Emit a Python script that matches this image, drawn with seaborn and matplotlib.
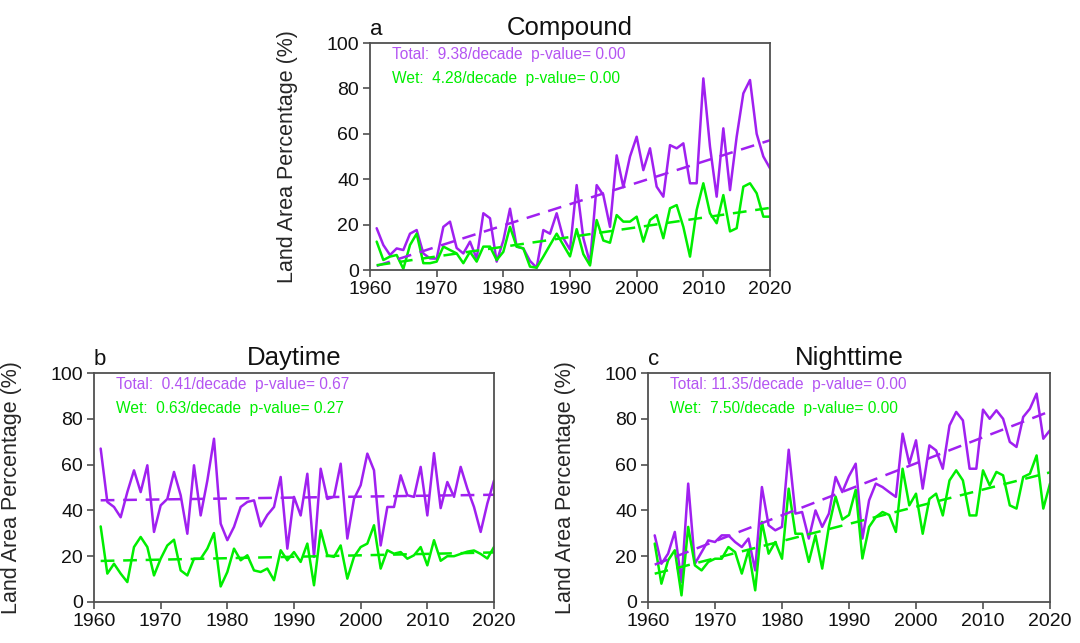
import numpy as np
import pandas as pd
import matplotlib
matplotlib.use("Agg")
import matplotlib.pyplot as plt
import seaborn as sns

years = list(range(1961, 2021))

compound_total = [18.4, 11, 6.6, 9.5, 8.8, 16, 17.6, 7.3, 5.1, 5,
                  19, 21.3, 9.7, 7.3, 12.5, 5, 25, 22.8, 3.7, 13,
                  27, 10.3, 9.5, 4, 1, 17.6, 16, 25, 14, 9,
                  37.4, 14, 3, 37.4, 33, 19, 50.5, 36.5, 50, 58.7,
                  44, 53.6, 36.7, 32.3, 55, 53.6, 55.8, 38.2, 38.2, 84.4,
                  54.3, 32.3, 62.4, 35.2, 58.7, 77.8, 83.7, 60, 50, 44.8]
compound_wet = [12.5, 4.4, 5.9, 6.6, 0.5, 11, 16, 3, 3, 3.7,
                10.3, 8.8, 7.3, 3, 8, 3.7, 10.3, 10.3, 4.4, 8,
                19, 10.3, 9.5, 1.5, 1, 5.9, 11, 16, 11, 6,
                18, 7, 2, 22, 13, 12, 24.2, 21.3, 21.3, 23.5,
                12.5, 22, 24.2, 14, 27.2, 28.6, 19, 5.9, 26.4, 38.2,
                25, 20.6, 33, 17, 18.4, 36.7, 38.2, 33.8, 23.5, 23.5]

daytime_total = [67, 43.7, 41.5, 37, 48, 57.5, 48, 59.7, 30.6, 42.2,
                 45, 56.8, 46.6, 29.8, 59.7, 37.8, 53, 71.3, 34.2, 27,
                 32.8, 41.5, 43.7, 44.4, 33, 38, 41.5, 54.6, 23.3, 45.9,
                 37.8, 56, 19.7, 58.2, 45, 46, 60.4, 27.7, 45, 51,
                 64.8, 57.5, 24.7, 41.5, 41.5, 55.3, 46.6, 45.9, 59, 37.8,
                 65, 41, 52.4, 45.9, 59, 49.5, 41.5, 30.6, 43, 53]
daytime_wet = [33, 12.4, 16.7, 12.4, 8.7, 24, 28.4, 24, 11.6, 18.9,
               24.7, 27.2, 13.8, 11.6, 18.9, 18.9, 23.3, 30.1, 6.8, 13.1,
               23.3, 18.2, 20.4, 13.8, 13.1, 14.6, 9.5, 22.6, 18.2, 21.8,
               17.5, 25.5, 7.3, 31.3, 20.4, 19.7, 24.7, 10.2, 19.7, 24,
               25.5, 33.5, 14.6, 22.6, 21.1, 21.8, 18.9, 20.4, 24, 16,
               27, 18, 20, 20, 21, 22, 22.5, 21, 19, 24]

night_total = [29.1, 16.7, 21.1, 30.6, 8.7, 51.7, 16.7, 21.8, 26.9, 26.2,
               29.1, 29.1, 26.2, 24, 27.7, 13.8, 50.2, 33.5, 31.3, 32.8,
               66.5, 38.6, 39.3, 27.7, 40, 32.8, 38.6, 54.6, 48, 55,
               60.4, 27.7, 44.4, 51.7, 50.2, 48, 45.9, 73.5, 60.4, 70.6,
               49.5, 68.4, 66.2, 58.2, 77.1, 83, 79.3, 58.2, 58.2, 84,
               80, 83.7, 80, 69.9, 67.7, 80.8, 84.4, 91, 71.3, 75]
night_wet = [25.5, 8, 18.2, 22.6, 2.9, 32.8, 16, 13.8, 17.5, 18.9,
             18.9, 24, 21.8, 12.4, 22.6, 5.1, 35, 21.1, 26.2, 18.9,
             49.5, 29.8, 29.8, 17.5, 29.1, 14.6, 33, 46, 36, 38,
             49, 19, 32.8, 37.1, 39.3, 38, 30.6, 58.2, 42.2, 47.3,
             29.8, 45, 47.3, 37.8, 53.1, 57.5, 53.1, 37.8, 37.8, 57.5,
             50.9, 56.8, 55.3, 42.2, 40.8, 54.6, 56, 64, 40.8, 51.7]

# stated trends (% per decade)
total_slopes = [9.38, 0.41, 11.35]
wet_slopes = [4.28, 0.63, 7.50]

panel_letters = ["a", "b", "c"]
panel_titles = ["Compound", "Daytime", "Nighttime"]
total_texts = ["Total:  9.38/decade  p-value= 0.00",
               "Total:  0.41/decade  p-value= 0.67",
               "Total: 11.35/decade  p-value= 0.00"]
wet_texts = ["Wet:  4.28/decade  p-value= 0.00",
             "Wet:  0.63/decade  p-value= 0.27",
             "Wet:  7.50/decade  p-value= 0.00"]
x_ticks = [1960, 1970, 1980, 1990, 2000, 2010, 2020]
y_ticks = [0, 20, 40, 60, 80, 100]
ylabel = "Land Area Percentage (%)"

PURPLE = "#A020F0"
PURPLE_TXT = "#B455F2"
GREEN = "#00EE00"
FRAME = "#505050"

sns.set_style("ticks")
plt.rcParams["font.family"] = ["Liberation Sans", "DejaVu Sans"]
plt.rcParams["text.color"] = "#111111"
plt.rcParams["xtick.labelcolor"] = "#111111"
plt.rcParams["ytick.labelcolor"] = "#111111"

fig = plt.figure(figsize=(10.8, 6.43), dpi=100)
positions = [
    [370 / 1080, 1 - 270 / 643, 400 / 1080, 227 / 643],
    [94 / 1080, 1 - 602 / 643, 400 / 1080, 229 / 643],
    [648 / 1080, 1 - 602 / 643, 402 / 1080, 229 / 643],
]
series = [(compound_total, compound_wet), (daytime_total, daytime_wet),
          (night_total, night_wet)]

for i, pos in enumerate(positions):
    ax = fig.add_axes(pos)
    tot, wet = series[i]
    df = pd.DataFrame({
        "year": years * 2,
        "value": list(tot) + list(wet),
        "kind": ["Total"] * len(years) + ["Wet"] * len(years),
    })
    sns.lineplot(data=df, x="year", y="value", hue="kind",
                 palette={"Total": PURPLE, "Wet": GREEN},
                 linewidth=1.8, legend=False, ax=ax)
    # linear trends with the stated slope, through the series mean
    yr = np.array(years, dtype=float)
    for vals, col, slope in [(tot, PURPLE, total_slopes[i]),
                             (wet, GREEN, wet_slopes[i])]:
        v = np.array(vals, dtype=float)
        k = slope / 10.0
        trend = v.mean() + k * (yr - yr.mean())
        tdf = pd.DataFrame({"year": yr, "trend": trend})
        sns.lineplot(data=tdf, x="year", y="trend", color=col,
                     linewidth=1.8, dashes=False, ax=ax,
                     linestyle=(0, (5.5, 3.5)))
    ax.set_xlim(1960, 2020)
    ax.set_ylim(0, 100)
    ax.set_xticks(x_ticks)
    ax.set_yticks(y_ticks)
    ax.tick_params(axis="both", labelsize=14, length=5, width=1.2,
                   color=FRAME, direction="out", pad=3)
    for sp in ax.spines.values():
        sp.set_color(FRAME)
        sp.set_linewidth(1.3)
    ax.set_xlabel("")
    ax.set_ylabel(ylabel, fontsize=15.5)
    ax.yaxis.set_label_coords(-0.18, 0.5)
    ax.set_title(panel_titles[i], fontsize=18.5, pad=6)
    ax.set_title(panel_letters[i], loc="left", fontsize=16, pad=6)
    ax.text(0.055, 0.95, total_texts[i], transform=ax.transAxes,
            color=PURPLE_TXT, fontsize=11.2, va="center", ha="left")
    ax.text(0.055, 0.845, wet_texts[i], transform=ax.transAxes,
            color=GREEN, fontsize=11.2, va="center", ha="left")

fig.savefig("out.png", dpi=100)
